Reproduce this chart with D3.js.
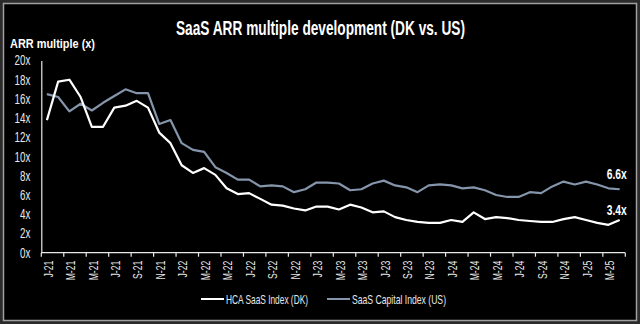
<!DOCTYPE html>
<html>
<head>
<meta charset="utf-8">
<script src="https://cdn.jsdelivr.net/npm/d3@7"></script>
<style>
  html, body { margin: 0; padding: 0; background: #2b2b2b; }
  svg { display: block; }
</style>
</head>
<body>
<div id="chart"></div>
<script>
// monthly categories, Jan 2021 .. Apr 2025
const months = [
  'J-21', 'F-21', 'M-21', 'A-21', 'M-21', 'J-21', 'J-21', 'A-21', 'S-21', 'O-21', 'N-21', 'D-21',
  'J-22', 'F-22', 'M-22', 'A-22', 'M-22', 'J-22', 'J-22', 'A-22', 'S-22', 'O-22', 'N-22', 'D-22',
  'J-23', 'F-23', 'M-23', 'A-23', 'M-23', 'J-23', 'J-23', 'A-23', 'S-23', 'O-23', 'N-23', 'D-23',
  'J-24', 'F-24', 'M-24', 'A-24', 'M-24', 'J-24', 'J-24', 'A-24', 'S-24', 'O-24', 'N-24', 'D-24',
  'J-25', 'F-25', 'M-25', 'A-25',
];

const hcaIndex = [
  13.8, 17.8, 18.0, 16.2, 13.1, 13.1, 15.1, 15.3, 15.8, 15.1, 12.5, 11.4,
  9.1, 8.3, 8.8, 8.1, 6.7, 6.1, 6.2, 5.6, 5.0, 4.9, 4.6, 4.4,
  4.8, 4.8, 4.5, 5.0, 4.7, 4.2, 4.3, 3.7, 3.4, 3.2, 3.1, 3.1,
  3.4, 3.2, 4.2, 3.5, 3.7, 3.6, 3.4, 3.3, 3.2, 3.2, 3.5, 3.7,
  3.4, 3.1, 2.9, 3.4,
];

const saasCapitalIndex = [
  16.5, 16.2, 14.7, 15.5, 14.8, 15.6, 16.3, 17.0, 16.6, 16.6, 13.4, 13.8,
  11.4, 10.7, 10.5, 8.9, 8.3, 7.6, 7.6, 6.9, 7.0, 6.9, 6.3, 6.6,
  7.3, 7.3, 7.2, 6.5, 6.6, 7.2, 7.5, 7.0, 6.8, 6.3, 7.0, 7.1,
  7.0, 6.7, 6.8, 6.5, 6.0, 5.8, 5.8, 6.3, 6.2, 6.9, 7.4, 7.1,
  7.4, 7.1, 6.7, 6.6,
];

const seriesNames = ['HCA SaaS Index (DK)', 'SaaS Capital Index (US)'];
const endLabels = ['3.4x', '6.6x'];
const yTicks = [0, 2, 4, 6, 8, 10, 12, 14, 16, 18, 20];

const width = 640;
const height = 324;
const margins = {top: 60.5, right: 14.7, bottom: 71.3, left: 41.3};
const font = '"Liberation Sans", Arial, sans-serif';
const colors = ['#ffffff', '#8595ab'];
const squeeze = 0.7; // narrow the glyphs, the original uses a condensed face

const svg = d3.select('#chart')
  .append('svg')
  .attr('width', width)
  .attr('height', height)
  .style('font-family', font);

// frame
svg.append('rect')
  .attr('x', 3.5).attr('y', 3.5)
  .attr('width', width - 7).attr('height', height - 7)
  .attr('fill', '#000')
  .attr('stroke', '#a0a0a0')
  .attr('stroke-width', 1.5);

svg.append('text')
  .attr('x', 176).attr('y', 35)
  .attr('fill', '#fff')
  .attr('font-weight', 'bold')
  .attr('font-size', 20)
  .attr('textLength', 289)
  .attr('lengthAdjust', 'spacingAndGlyphs')
  .text('SaaS ARR multiple development (DK vs. US)');

svg.append('text')
  .attr('x', 10).attr('y', 47.5)
  .attr('fill', '#fff')
  .attr('font-weight', 'bold')
  .attr('font-size', 13.5)
  .attr('textLength', 85)
  .attr('lengthAdjust', 'spacingAndGlyphs')
  .text('ARR multiple (x)');

const chartWidth = width - margins.left - margins.right;
const chartHeight = height - margins.top - margins.bottom;

const g = svg.append('g')
  .attr('transform', `translate(${margins.left},${margins.top})`);

const x = d3.scaleBand()
  .domain(d3.range(months.length))
  .range([0, chartWidth]);

const y = d3.scaleLinear()
  .domain([0, 20])
  .range([chartHeight, 0]);

const cx = (i) => x(i) + x.bandwidth() / 2;

// y axis: line + labels, no tick marks
const yAxis = g.append('g')
  .call(d3.axisLeft(y).tickValues(yTicks).tickSize(0).tickFormat((d) => d + 'x'));
yAxis.select('.domain').attr('stroke', '#e8e8e8').attr('stroke-width', 1.2);
yAxis.selectAll('.tick text')
  .attr('fill', '#e8e8e8')
  .attr('font-family', font)
  .attr('font-size', 14)
  .attr('x', -11 / squeeze)
  .attr('transform', `scale(${squeeze},1)`);

// x axis: ticks between every second category
const tickPos = d3.range(0, months.length + 1, 2);
const xAxisG = g.append('g').attr('transform', `translate(0,${chartHeight})`);
xAxisG.append('line')
  .attr('x1', 0).attr('x2', chartWidth)
  .attr('stroke', '#e8e8e8').attr('stroke-width', 1.2);
xAxisG.selectAll('.tk')
  .data(tickPos)
  .join('line')
  .attr('class', 'tk')
  .attr('x1', (d) => d * x.step()).attr('x2', (d) => d * x.step())
  .attr('y1', 0).attr('y2', 4)
  .attr('stroke', '#e8e8e8').attr('stroke-width', 1.2);
xAxisG.selectAll('.lbl')
  .data(d3.range(0, months.length, 2))
  .join('text')
  .attr('class', 'lbl')
  .attr('transform', (d) => `translate(${cx(d) + 1.5},8) rotate(-90) scale(0.72,1)`)
  .attr('text-anchor', 'end')
  .attr('dy', '0.35em')
  .attr('fill', '#e8e8e8')
  .attr('font-size', 12)
  .text((d) => months[d]);

const line = d3.line()
  .x((d, i) => cx(i))
  .y((d) => y(d));

const series = [hcaIndex, saasCapitalIndex];

// draw US first so DK sits on top
[1, 0].forEach((k) => {
  g.append('path')
    .datum(series[k])
    .attr('fill', 'none')
    .attr('stroke', colors[k])
    .attr('stroke-width', 2.2)
    .attr('stroke-linejoin', 'round')
    .attr('d', line);
});

// end-of-line value labels
const labelOffsets = [-10, -15];
series.forEach((s, k) => {
  const last = s.length - 1;
  g.append('text')
    .attr('x', cx(last) - 13)
    .attr('y', y(s[last]) + labelOffsets[k])
    .attr('dy', '0.35em')
    .attr('fill', '#fff')
    .attr('font-weight', 'bold')
    .attr('font-size', 14)
    .attr('textLength', 20)
    .attr('lengthAdjust', 'spacingAndGlyphs')
    .text(endLabels[k]);
});

// legend
const legendX = [201, 327];
const legendLen = [82, 94];
const legend = svg.append('g').attr('transform', 'translate(0,299)');
seriesNames.forEach((name, k) => {
  legend.append('line')
    .attr('x1', legendX[k]).attr('x2', legendX[k] + 23)
    .attr('stroke', colors[k]).attr('stroke-width', 2);
  legend.append('text')
    .attr('x', legendX[k] + 25)
    .attr('dy', '0.35em')
    .attr('fill', '#e8e8e8')
    .attr('font-size', 13)
    .attr('textLength', legendLen[k])
    .attr('lengthAdjust', 'spacingAndGlyphs')
    .text(name);
});
</script>
</body>
</html>
